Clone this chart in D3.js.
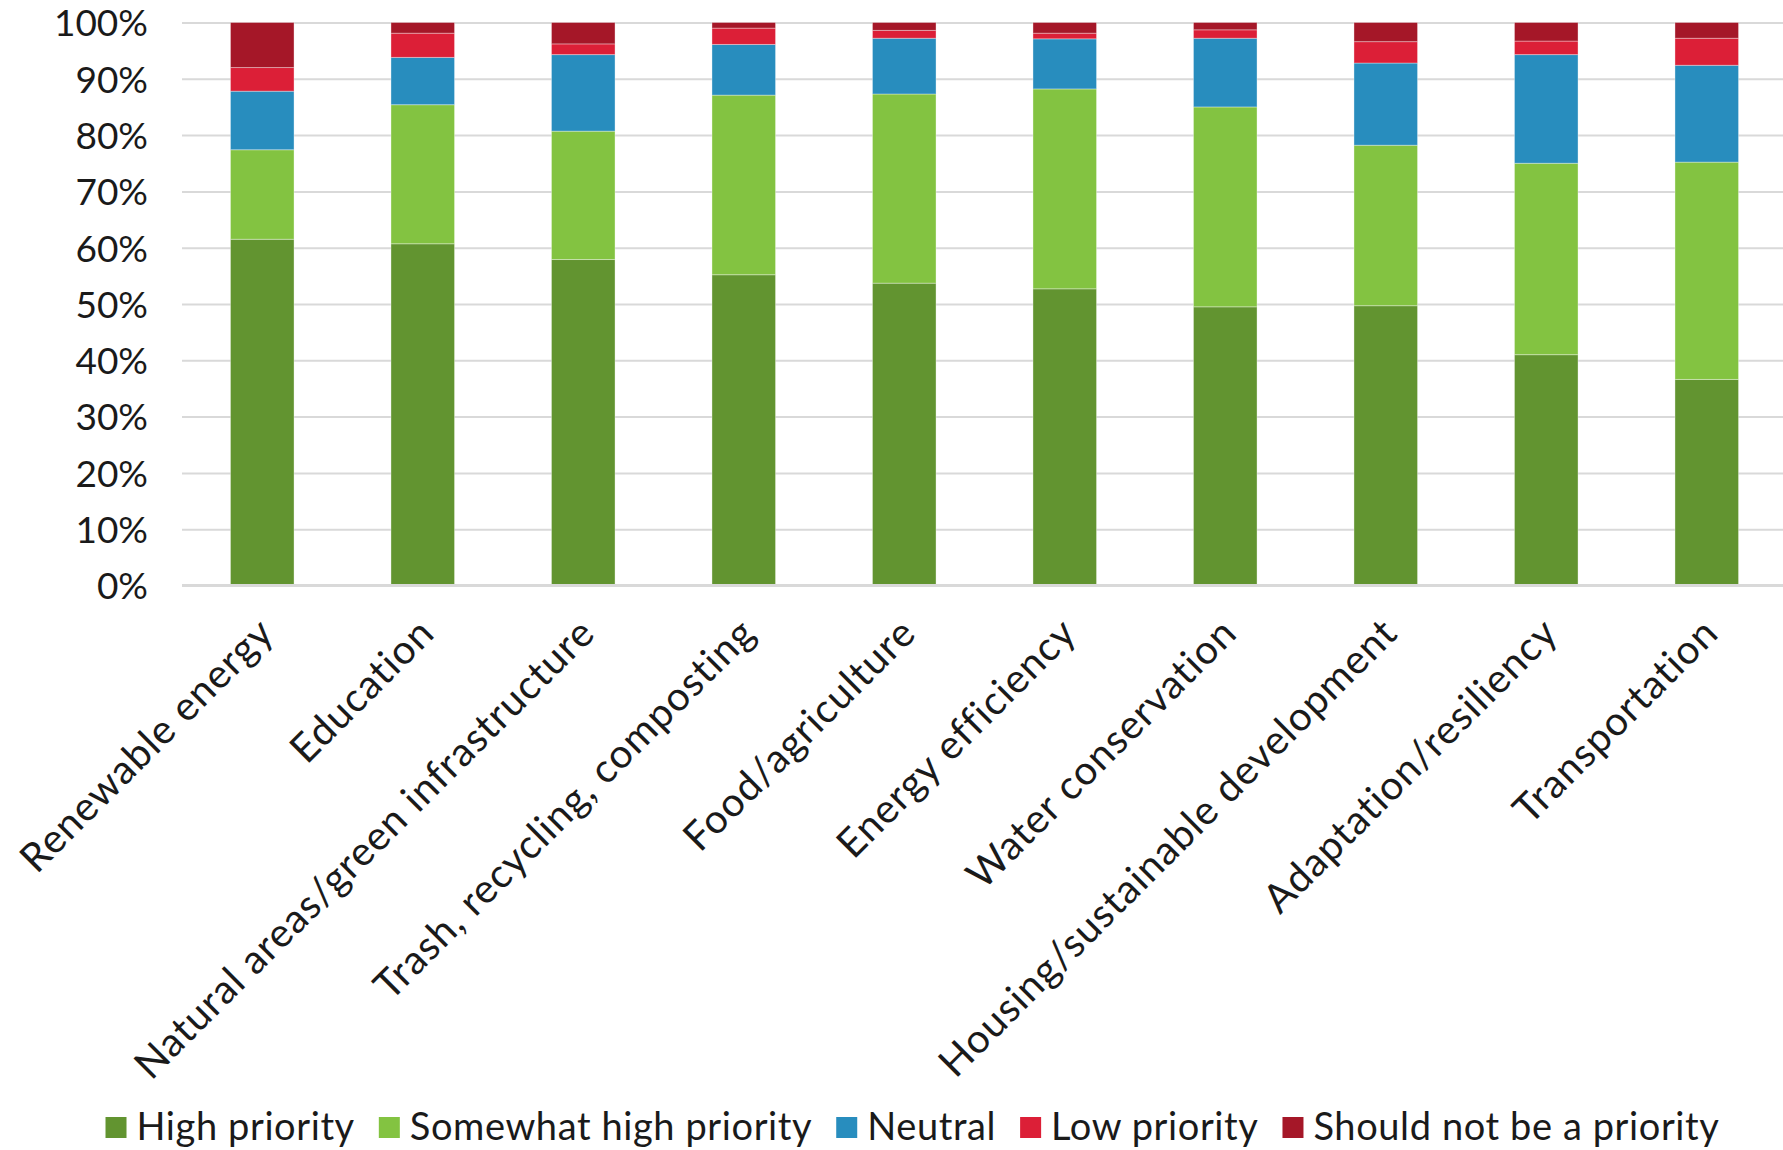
<!DOCTYPE html>
<html>
<head>
<meta charset="utf-8">
<script src="https://cdn.jsdelivr.net/npm/d3@7"></script>
<style>
  body { margin: 0; background: #fff; }
  svg text { font-family: Lato, "Open Sans", sans-serif; fill: #1a1a1a; }
</style>
</head>
<body>
<svg id="chart" width="1783" height="1150"></svg>
<script>
// categories along the x axis
var categories = ["Renewable energy", "Education", "Natural areas/green infrastructure",
  "Trash, recycling, composting", "Food/agriculture", "Energy efficiency",
  "Water conservation", "Housing/sustainable development", "Adaptation/resiliency", "Transportation"];

// percent of respondents per answer
var highPriority     = [61.5, 60.7, 57.9, 55.2, 53.7, 52.7, 49.5, 49.7, 41.0, 36.6];
var somewhatHigh     = [15.9, 24.7, 22.8, 31.9, 33.6, 35.5, 35.5, 28.5, 34.0, 38.6];
var neutral          = [10.4,  8.4, 13.6,  9.0,  9.9,  8.9, 12.2, 14.6, 19.3, 17.2];
var lowPriority      = [ 4.2,  4.3,  1.9,  2.9,  1.4,  1.0,  1.5,  3.8,  2.4,  4.8];
var notPriority      = [ 8.0,  1.9,  3.8,  1.0,  1.4,  1.9,  1.3,  3.4,  3.3,  2.8];

var seriesNames = ["High priority", "Somewhat high priority", "Neutral", "Low priority", "Should not be a priority"];
var seriesColors = ["#629430", "#83c341", "#288dbe", "#dc1f37", "#a51728"];
var yTicks = [0, 0.1, 0.2, 0.3, 0.4, 0.5, 0.6, 0.7, 0.8, 0.9, 1];

function drawChart(){
  var svg = d3.select("#chart");
  var plotLeft = 182, plotRight = 1787, plotTop = 22.5, plotBottom = 585.5;

  // build rows for d3.stack
  var allSeries = [highPriority, somewhatHigh, neutral, lowPriority, notPriority];
  var rows = categories.map(function(c, i){
    var r = {cat: c};
    seriesNames.forEach(function(s, j){ r[s] = allSeries[j][i]; });
    return r;
  });
  var stacked = d3.stack().keys(seriesNames).offset(d3.stackOffsetExpand)(rows);

  var x = d3.scaleBand().domain(categories).range([plotLeft, plotRight])
    .paddingInner(0.604).paddingOuter(0.302);
  var y = d3.scaleLinear().domain([0, 1]).range([plotBottom, plotTop]);

  // gridlines
  svg.append("g")
    .attr("transform", "translate(" + plotLeft + ",0)")
    .call(d3.axisLeft(y).tickValues(yTicks).tickSize(-(1783 - plotLeft)).tickFormat(""))
    .call(function(g){
      g.select(".domain").remove();
      g.selectAll("line").attr("stroke", "#d9d9d9").attr("stroke-width", 2);
    });

  // y tick labels
  svg.append("g")
    .attr("transform", "translate(148,0)")
    .call(d3.axisLeft(y).tickValues(yTicks).tickSize(0).tickPadding(0).tickFormat(d3.format(".0%")))
    .call(function(g){
      g.select(".domain").remove();
      g.selectAll("text").attr("font-size", "37px").attr("fill", "#1a1a1a")
        .attr("font-family", "Lato, sans-serif")
        .attr("dy", "0.36em");
    });

  // bars
  svg.append("g").selectAll("g")
    .data(stacked)
    .enter().append("g")
    .attr("fill", function(d, i){ return seriesColors[i]; })
    .selectAll("rect")
    .data(function(d){ return d; })
    .enter().append("rect")
    .attr("x", function(d){ return x(d.data.cat); })
    .attr("y", function(d){ return y(d[1]); })
    .attr("width", x.bandwidth())
    .attr("height", function(d){ return y(d[0]) - y(d[1]); })
    .attr("stroke", "rgba(255,255,255,0.35)")
    .attr("stroke-width", 1);

  // x axis line
  svg.append("line")
    .attr("x1", plotLeft).attr("x2", 1783)
    .attr("y1", plotBottom).attr("y2", plotBottom)
    .attr("stroke", "#d9d9d9").attr("stroke-width", 3);

  // rotated category labels
  svg.append("g")
    .attr("transform", "translate(0," + plotBottom + ")")
    .call(d3.axisBottom(x).tickSize(0).tickPadding(0))
    .call(function(g){
      g.select(".domain").remove();
      g.selectAll("text")
        .attr("font-size", "40px")
        .attr("letter-spacing", "1px")
        .attr("fill", "#1a1a1a")
        .attr("font-family", "Lato, sans-serif")
        .attr("text-anchor", "end")
        .attr("dy", "0.7em")
        .attr("y", 0)
        .attr("transform", "translate(-6,30) rotate(-45)");
    });

  // legend
  var legend = svg.append("g");
  var items = legend.selectAll("g").data(seriesNames).enter().append("g");
  items.append("rect")
    .attr("width", 21).attr("height", 21)
    .attr("y", 1117)
    .attr("fill", function(d, i){ return seriesColors[i]; });
  items.append("text")
    .attr("x", 31).attr("y", 1127)
    .attr("dy", "0.35em")
    .attr("font-size", "38px")
    .attr("letter-spacing", "0.6px")
    .text(function(d){ return d; });
  var widths = [];
  items.each(function(){
    widths.push(d3.select(this).select("text").node().getComputedTextLength() + 31);
  });
  var total = d3.sum(widths) + 24 * (widths.length - 1);
  var xpos = 912.5 - total / 2;
  items.attr("transform", function(d, i){
    var t = "translate(" + xpos + ",0)";
    xpos += widths[i] + 24;
    return t;
  });
}
drawChart();
</script>
</body>
</html>
